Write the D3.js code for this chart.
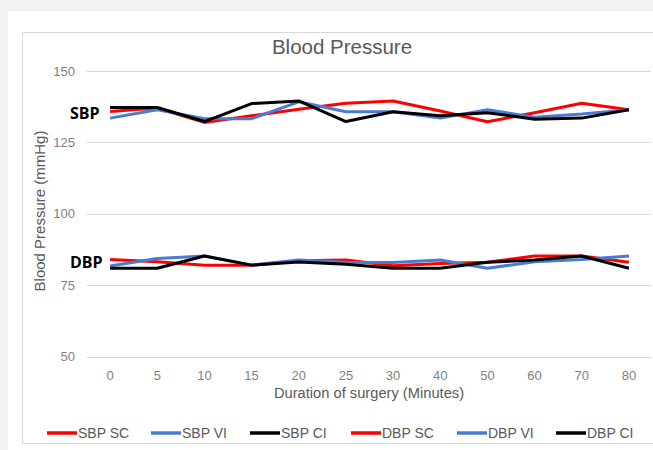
<!DOCTYPE html>
<html>
<head>
<meta charset="utf-8">
<script src="https://cdn.jsdelivr.net/npm/d3@7"></script>
<style>
  body { margin: 0; background: #f1f2f4; }
  svg { display: block; font-family: "Liberation Sans", Arial, sans-serif; }
</style>
</head>
<body>
<svg id="chart"></svg>
<script>
// categories (minutes) and series values
let minutes = ['0', '5', '10', '15', '20', '25', '30', '40', '50', '60', '70', '80']
let sbpSC = [135.8, 137, 132, 134.3, 136.6, 138.7, 139.5, 136, 132.2, 135.4, 138.7, 136.4]
let sbpVI = [133.5, 136.4, 133.3, 133.3, 139.2, 135.7, 135.7, 133.5, 136.4, 133.8, 134.9, 136.4]
let sbpCI = [137.2, 137.2, 132.3, 138.6, 139.5, 132.3, 135.7, 134.3, 135.4, 133.1, 133.5, 136.4]
let dbpSC = [84, 83.2, 82, 82, 83.5, 83.8, 81.8, 82.6, 83, 85.2, 85.2, 83]
let dbpVI = [81.7, 84.3, 85.2, 82, 83.8, 83, 82.9, 83.8, 80.9, 83.2, 84, 85.2]
let dbpCI = [80.9, 80.9, 85.2, 82, 83.1, 82.3, 80.9, 80.9, 83, 83.8, 85.2, 80.9]
let yTicks = [50, 75, 100, 125, 150]

let seriesNames = ['SBP SC', 'SBP VI', 'SBP CI', 'DBP SC', 'DBP VI', 'DBP CI']
let seriesData = [sbpSC, sbpVI, sbpCI, dbpSC, dbpVI, dbpCI]
let colors = ['#ff0000', '#4a7bd0', '#000000', '#ff0000', '#4a7bd0', '#000000']

let width = 653
let height = 450

let svg = d3.select('#chart')
    .attr('width', width)
    .attr('height', height)

// white panel and chart frame
svg.append('rect')
    .attr('x', 8).attr('y', 11)
    .attr('width', width - 8).attr('height', height - 11)
    .attr('fill', '#ffffff')

svg.append('rect')
    .attr('x', 22.5).attr('y', 32.5)
    .attr('width', 660).attr('height', 411)
    .attr('fill', 'none')
    .attr('stroke', '#d9d9d9')

let xScale = d3.scaleBand()
    .domain(minutes)
    .range([86.5, 652.5])

let yScale = d3.scaleLinear()
    .domain([50, 150])
    .range([356.5, 71])

// gridlines
svg.append('g')
    .selectAll('line')
    .data(yTicks)
    .enter()
    .append('line')
    .attr('x1', 86.5)
    .attr('x2', 651)
    .attr('y1', d => Math.round(yScale(d)) + 0.5)
    .attr('y2', d => Math.round(yScale(d)) + 0.5)
    .attr('stroke', '#d9d9d9')
    .attr('stroke-width', 1)

// y axis labels
let yAxis = d3.axisLeft(yScale)
    .tickValues(yTicks)
    .tickSize(0)
    .tickPadding(11)

svg.append('g')
    .attr('transform', 'translate(86, 0)')
    .call(yAxis)
    .call(g => g.select('.domain').remove())
    .selectAll('text')
    .attr('fill', '#7f7f7f')
    .style('font-size', '13px')

// x axis labels
let xAxis = d3.axisBottom(xScale)
    .tickSize(0)
    .tickPadding(9)

svg.append('g')
    .attr('transform', 'translate(0, 362)')
    .call(xAxis)
    .call(g => g.select('.domain').remove())
    .selectAll('text')
    .attr('fill', '#7f7f7f')
    .style('font-size', '13px')

let line = d3.line()
    .x((d, i) => xScale(minutes[i]) + xScale.bandwidth() / 2)
    .y(d => yScale(d))

// draw the lines, back to front like the picture
seriesData.forEach((s, i) => {
    svg.append('path')
        .datum(s)
        .attr('d', line)
        .attr('fill', 'none')
        .attr('stroke', colors[i])
        .attr('stroke-width', 3)
        .attr('stroke-linejoin', 'round')
})

// title and axis titles
svg.append('text')
    .attr('x', 342).attr('y', 54)
    .attr('text-anchor', 'middle')
    .attr('fill', '#595959')
    .style('font-size', '20.5px')
    .text('Blood Pressure')

svg.append('text')
    .attr('x', 369).attr('y', 398)
    .attr('text-anchor', 'middle')
    .attr('fill', '#595959')
    .style('font-size', '14.7px')
    .text('Duration of surgery (Minutes)')

svg.append('text')
    .attr('transform', 'translate(45, 211) rotate(-90)')
    .attr('text-anchor', 'middle')
    .attr('fill', '#595959')
    .style('font-size', '15px')
    .text('Blood Pressure (mmHg)')

// group labels
svg.append('text')
    .attr('x', 70).attr('y', 119)
    .attr('fill', '#000')
    .style('font-size', '16px')
    .style('font-weight', 'bold')
    .style('font-family', '"Open Sans", sans-serif')
    .text('SBP')

svg.append('text')
    .attr('x', 70).attr('y', 268)
    .attr('fill', '#000')
    .style('font-size', '16px')
    .style('font-weight', 'bold')
    .style('font-family', '"Open Sans", sans-serif')
    .text('DBP')

// legend
let legendX = [47, 151, 250, 351, 457, 556]
let legend = svg.append('g')
    .selectAll('g')
    .data(seriesNames)
    .enter()
    .append('g')
    .attr('transform', (d, i) => `translate(${legendX[i]}, 433)`)

legend.append('line')
    .attr('x1', 0).attr('x2', 30)
    .attr('stroke', (d, i) => colors[i])
    .attr('stroke-width', 3.5)

legend.append('text')
    .attr('x', 31).attr('y', 5)
    .attr('fill', '#595959')
    .style('font-size', '14px')
    .text(d => d)
</script>
</body>
</html>
